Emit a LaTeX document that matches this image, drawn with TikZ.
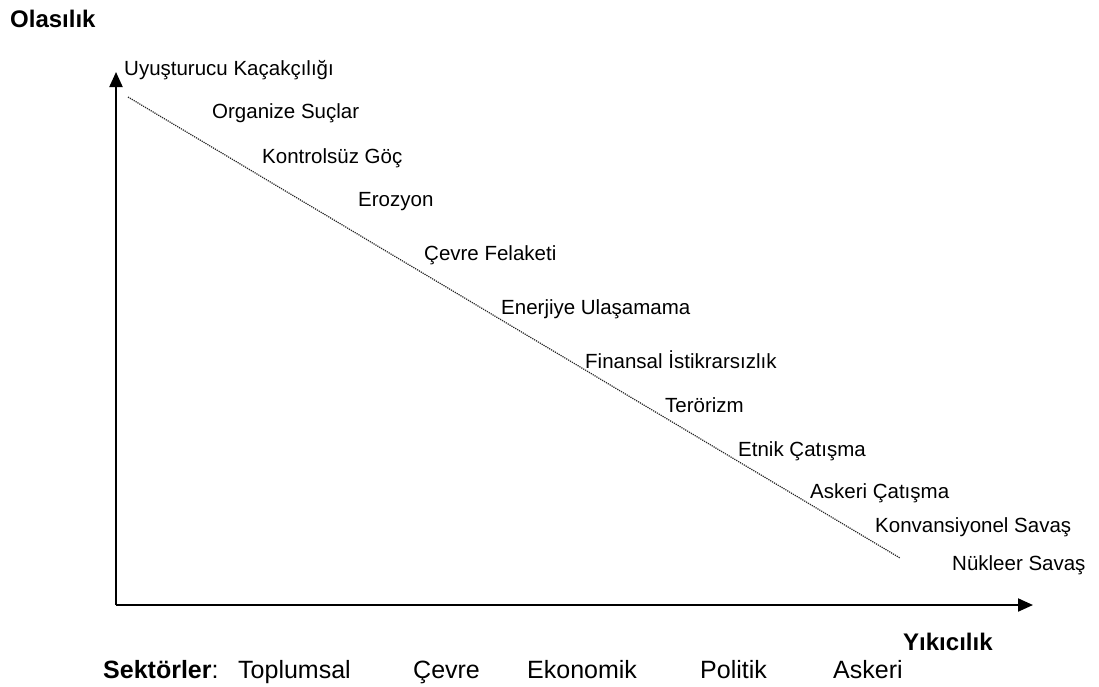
\documentclass[tikz,border=0pt]{standalone}
\usepackage{fontspec}
\setmainfont{Liberation Sans}
\usetikzlibrary{arrows.meta}
\begin{document}
\begin{tikzpicture}[x=1pt,y=-1pt,
  risk/.style={anchor=base west,inner sep=0pt,font=\fontsize{20.5pt}{24pt}\selectfont},
  axistitle/.style={anchor=base west,inner sep=0pt,font=\fontsize{24pt}{28pt}\selectfont\bfseries},
  sector/.style={anchor=base west,inner sep=0pt,font=\fontsize{25pt}{29pt}\selectfont},
  axis/.style={line width=2pt,-{Triangle[length=15pt,width=13pt]}},
  trend/.style={draw=black!85,line width=1.2pt,dash pattern=on 1.2pt off 1pt}]
\useasboundingbox (0,0) rectangle (1099,686);
\fill[white] (0,0) rectangle (1099,686);

% axes
\coordinate (origin) at (116,605);
\coordinate (ytip) at (116,72);
\coordinate (xtip) at (1033,605);
\draw[axis] (origin) -- (ytip);
\draw[axis] (origin) -- (xtip);

% axis titles
\node[axistitle] (olasilik) at (10,27) {Olasılık};
\node[axistitle] (yikicilik) at (903,650) {Yıkıcılık};

% trend line
\coordinate (tstart) at (128,97);
\coordinate (tend) at (900,558);
\draw[trend] (tstart) -- (tend);

% threats
\node[risk] (r1) at (124,75) {Uyuşturucu Kaçakçılığı};
\node[risk] (r2) at (212,118) {Organize Suçlar};
\node[risk] (r3) at (262,163) {Kontrolsüz Göç};
\node[risk] (r4) at (358,206) {Erozyon};
\node[risk] (r5) at (424,260) {Çevre Felaketi};
\node[risk] (r6) at (501,314) {Enerjiye Ulaşamama};
\node[risk] (r7) at (585,368) {Finansal İstikrarsızlık};
\node[risk] (r8) at (665,412) {Terörizm};
\node[risk] (r9) at (738,456) {Etnik Çatışma};
\node[risk] (r10) at (810,498) {Askeri Çatışma};
\node[risk] (r11) at (875,532) {Konvansiyonel Savaş};
\node[risk] (r12) at (952,570) {Nükleer Savaş};

% sectors
\node[sector] (sek) at (103,678) {\textbf{Sektörler}:};
\node[sector] (s1) at (238,678) {Toplumsal};
\node[sector] (s2) at (413,678) {Çevre};
\node[sector] (s3) at (527,678) {Ekonomik};
\node[sector] (s4) at (700,678) {Politik};
\node[sector] (s5) at (833,678) {Askeri};
\end{tikzpicture}
\end{document}
